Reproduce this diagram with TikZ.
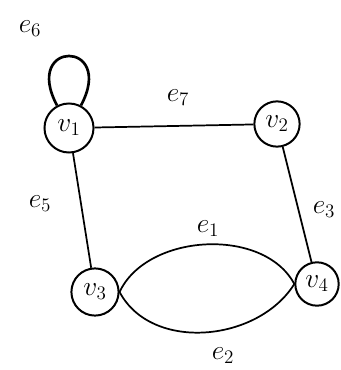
\documentclass[tikz,border=0pt]{standalone}
\usepackage{tikz}
\usetikzlibrary{positioning}

\begin{document}
\begin{tikzpicture}[x=0.0265cm, y=-0.0265cm,
    vertice/.style={circle, draw, line width=1.5pt, minimum size=1.3cm, inner sep=0pt, font=\huge},
    spigolo/.style={line width=1.3pt},
    etichetta/.style={font=\huge}]

    % area del disegno
    \useasboundingbox (0,0) rectangle (341,370);

    % ==========================================
    % 1. VERTICI
    % ==========================================
    \node[vertice] (v1) at (69,128) {$v_1$};
    \node[vertice, minimum size=1.2cm] (v2) at (277,124) {$v_2$};
    \node[vertice, minimum size=1.25cm] (v3) at (95,292) {$v_3$};
    \node[vertice, minimum size=1.15cm] (v4) at (317,284) {$v_4$};

    % ==========================================
    % 2. SPIGOLI
    % ==========================================
    \draw[spigolo] (v1) -- (v2);
    \draw[spigolo] (v2) -- (v4);
    \draw[spigolo] (v1) -- (v3);
    \draw[spigolo] (v3.east) to[out=65, in=118, looseness=0.95] (v4.west);
    \draw[spigolo] (v3.east) to[out=-62, in=-122, looseness=1.0] (v4.west);

    % cappio su v1
    \draw[line width=2pt] (v1) to[out=118, in=62, looseness=8] (v1);

    % ==========================================
    % 3. ETICHETTE
    % ==========================================
    \node[etichetta] (l6) at (30,29) {$e_6$};
    \node[etichetta] (l7) at (178,98) {$e_7$};
    \node[etichetta] (l5) at (40,204) {$e_5$};
    \node[etichetta] (l3) at (324,210) {$e_3$};
    \node[etichetta] (l1) at (208,229) {$e_1$};
    \node[etichetta] (l2) at (223,356) {$e_2$};

\end{tikzpicture}
\end{document}
